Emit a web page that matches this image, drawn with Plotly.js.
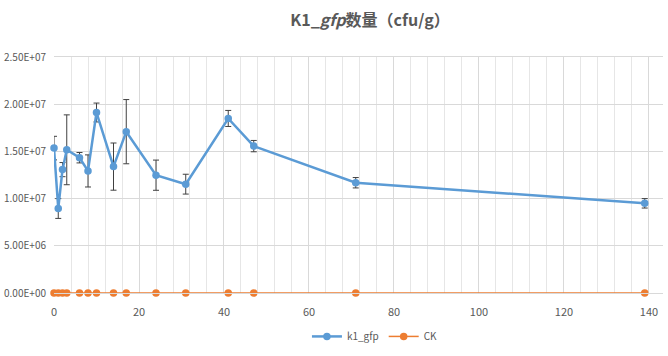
<!DOCTYPE html>
<html><head><meta charset="utf-8">
<script src="https://cdn.plot.ly/plotly-3.0.1.min.js"></script>
<style>html,body{margin:0;padding:0;background:#fff}#c{width:668px;height:356px}</style>
</head><body><div id="c"></div>
<script>
const days = [0, 1, 2, 3, 6, 8, 10, 14, 17, 24, 31, 41, 47, 71, 139];
const k1gfp = [1.535e7, 8.95e6, 1.307e7, 1.517e7, 1.433e7, 1.293e7, 1.912e7, 1.339e7, 1.709e7, 1.248e7, 1.153e7, 1.849e7, 1.556e7, 1.168e7, 9.5e6];
const k1gfpErr = [1.25e6, 1.05e6, 7.5e5, 3.7e6, 5.5e5, 1.7e6, 1.0e6, 2.5e6, 3.4e6, 1.6e6, 1.05e6, 8.5e5, 6.0e5, 5.5e5, 5.0e5];
const ck = [0, 0, 0, 0, 0, 0, 0, 0, 0, 0, 0, 0, 0, 0, 0];
const yTickVals = [0, 5e6, 1e7, 1.5e7, 2e7, 2.5e7];
const yTickText = ["0.00E+00", "5.00E+06", "1.00E+07", "1.50E+07", "2.00E+07", "2.50E+07"];
const xTickVals = [0, 20, 40, 60, 80, 100, 120, 140];

const font = '"Liberation Sans Narrow", "Noto Sans CJK SC", sans-serif';
const traces = [
  {x: days, y: k1gfp, name: 'k1_gfp', type: 'scatter', mode: 'lines+markers', cliponaxis: false,
   line: {color: '#5B9BD5', width: 2.5}, marker: {color: '#5B9BD5', size: 7.5},
   error_y: {type: 'data', array: k1gfpErr, visible: true, color: '#404040', thickness: 1, width: 3}},
  {x: days, y: ck, name: 'CK', type: 'scatter', mode: 'lines+markers', cliponaxis: false,
   line: {color: '#ED7D31', width: 1.5}, marker: {color: '#ED7D31', size: 7.5}}
];
const layout = {
  width: 668, height: 356,
  margin: {l: 54, r: 5, t: 57, b: 60},
  paper_bgcolor: '#fff', plot_bgcolor: '#fff',
  font: {family: font, size: 10, color: '#595959'},
  title: {text: 'K1_<i>gfp</i>数量（cfu/g）', x: 370/668, xanchor: 'center', y: 1 - 20/356, yanchor: 'middle',
          font: {family: font, size: 16, color: '#595959', weight: 'bold'}},
  xaxis: {range: [0, 143.3], tickvals: xTickVals, ticks: '', showgrid: true, gridcolor: '#d9d9d9', gridwidth: 1,
          minor: {dtick: 4, tick0: 0, showgrid: true, gridcolor: '#e6e6e6', gridwidth: 1},
          zeroline: false, showline: true, mirror: true, linecolor: '#d9d9d9', linewidth: 1,
          ticklabelstandoff: 9,
          tickfont: {size: 11, color: '#595959'}},
  yaxis: {range: [0, 2.5e7], tickvals: yTickVals, ticktext: yTickText, ticks: '', showgrid: true,
          gridcolor: '#d9d9d9', gridwidth: 1, zeroline: false, showline: false,
          ticklabelstandoff: 7,
          tickfont: {size: 10, color: '#595959'}},
  showlegend: true,
  legend: {orientation: 'h', x: 0.527, xanchor: 'center', y: -0.184, yanchor: 'middle',
           font: {size: 10, color: '#595959'}, itemwidth: 30}
};
Plotly.newPlot('c', traces, layout, {displayModeBar: false, staticPlot: true});
</script></body></html>
